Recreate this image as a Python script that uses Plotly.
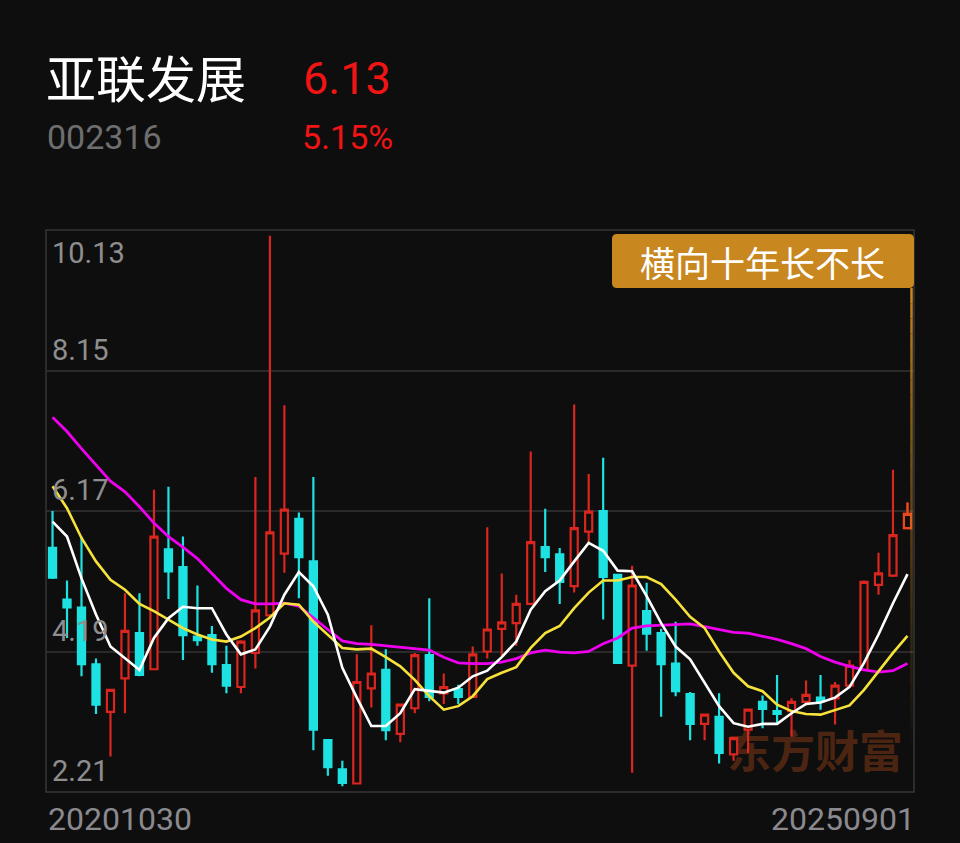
import plotly.graph_objects as go
import pandas as pd

# ---------------- data ----------------
months = pd.period_range("2020-10", "2025-09", freq="M").strftime("%Y-%m").tolist()

opens = [5.65, 4.92, 4.81, 4.01, 3.34, 3.81, 4.45, 3.94, 5.63, 5.38,
         4.40, 4.42, 4.00, 3.69, 4.17, 4.70, 5.57, 6.06, 5.46, 2.94,
         2.53, 2.33, 3.67, 3.93, 3.03, 3.39, 4.14, 3.60, 3.66, 3.55,
         4.19, 4.51, 4.59, 4.86, 5.66, 5.56, 5.11, 5.88, 6.17, 5.27,
         3.99, 4.76, 4.45, 4.02, 3.59, 3.17, 3.27, 2.74, 3.09, 3.48,
         3.35, 3.35, 3.48, 3.54, 3.53, 3.71, 3.93, 5.13, 5.26, 5.93]
highs = [6.17, 5.19, 5.81, 4.09, 3.66, 5.01, 5.01, 6.47, 6.51, 5.81,
         5.12, 4.55, 4.27, 4.35, 6.65, 10.05, 7.66, 6.15, 6.65, 2.95,
         2.65, 4.15, 4.56, 4.22, 3.45, 4.17, 4.94, 3.88, 3.72, 4.26,
         5.94, 5.29, 4.99, 7.01, 6.20, 5.65, 7.67, 6.69, 6.92, 5.28,
         5.40, 5.16, 4.51, 4.61, 3.62, 3.31, 3.60, 2.98, 3.38, 3.57,
         3.86, 3.53, 3.78, 3.86, 3.76, 4.07, 5.19, 5.58, 6.75, 6.29]
lows = [5.21, 4.38, 3.84, 3.31, 2.71, 3.32, 3.84, 3.93, 4.93, 4.07,
        4.27, 3.89, 3.60, 3.60, 3.95, 4.69, 5.30, 4.94, 2.80, 2.44,
        2.29, 2.32, 3.40, 2.94, 2.91, 3.32, 3.49, 3.45, 3.45, 3.54,
        4.09, 4.13, 4.27, 4.85, 5.31, 4.86, 5.02, 5.73, 4.64, 4.02,
        2.48, 4.20, 3.27, 3.56, 2.94, 2.94, 2.61, 2.65, 2.76, 3.11,
        3.17, 2.99, 3.43, 3.37, 3.16, 3.69, 3.92, 4.99, 5.24, 5.92]
closes = [5.23, 4.81, 4.01, 3.44, 3.65, 4.48, 3.86, 5.81, 5.32, 4.42,
          4.35, 4.01, 3.71, 4.33, 4.77, 5.87, 6.19, 5.52, 3.09, 2.56,
          2.34, 3.76, 3.88, 3.08, 3.44, 4.14, 3.55, 3.69, 3.55, 4.15,
          4.50, 4.60, 4.86, 5.73, 5.52, 5.17, 5.93, 6.16, 5.24, 4.03,
          5.12, 4.44, 4.01, 3.63, 3.17, 3.30, 2.76, 2.97, 3.37, 3.38,
          3.31, 3.48, 3.58, 3.49, 3.71, 3.99, 5.17, 5.29, 5.83, 6.13]

ma5 = [6.02, 5.81, 5.22, 4.71, 4.26, 4.10, 3.93, 4.38, 4.66, 4.82,
       4.80, 4.80, 4.43, 4.15, 4.22, 4.54, 4.99, 5.31, 5.11, 4.71,
       3.96, 3.54, 3.14, 3.14, 3.32, 3.66, 3.64, 3.61, 3.68, 3.84,
       3.92, 4.11, 4.33, 4.78, 5.04, 5.19, 5.46, 5.72, 5.61, 5.33,
       5.32, 4.97, 4.59, 4.26, 4.08, 3.75, 3.42, 3.18, 3.13, 3.17,
       3.17, 3.32, 3.45, 3.47, 3.54, 3.69, 4.03, 4.43, 4.87, 5.28]
ma10 = [6.52, 6.21, 5.79, 5.46, 5.20, 5.06, 4.86, 4.76, 4.64, 4.52,
        4.43, 4.36, 4.33, 4.40, 4.52, 4.67, 4.87, 4.85, 4.61, 4.43,
        4.24, 4.22, 4.23, 4.11, 3.98, 3.79, 3.56, 3.37, 3.42, 3.56,
        3.80, 3.89, 3.97, 4.24, 4.45, 4.55, 4.80, 5.02, 5.19, 5.19,
        5.24, 5.24, 5.14, 4.92, 4.68, 4.52, 4.19, 3.89, 3.70, 3.63,
        3.44, 3.35, 3.31, 3.30, 3.36, 3.43, 3.65, 3.91, 4.17, 4.41]
ma20 = [7.49, 7.29, 7.05, 6.82, 6.59, 6.44, 6.23, 6.00, 5.81, 5.66,
        5.50, 5.29, 5.08, 4.92, 4.86, 4.86, 4.87, 4.83, 4.66, 4.50,
        4.34, 4.30, 4.29, 4.27, 4.25, 4.24, 4.21, 4.11, 4.03, 4.02,
        4.02, 4.04, 4.09, 4.17, 4.21, 4.18, 4.17, 4.19, 4.30, 4.38,
        4.52, 4.55, 4.56, 4.58, 4.58, 4.54, 4.50, 4.46, 4.45, 4.41,
        4.36, 4.30, 4.23, 4.12, 4.04, 3.98, 3.93, 3.90, 3.92, 4.02]

y_labels = [10.13, 8.15, 6.17, 4.19, 2.21]
grid_vals = [8.15, 6.17, 4.19]
date_labels = ["20201030", "20250901"]

stock_name = "亚联发展"
stock_code = "002316"
last_price = "6.13"
change_pct = "5.15%"
badge_text = "横向十年长不长"
watermark = "东方财富"

# ---------------- style ----------------
BG = "#0e0e0e"
RED = "#da261e"
CYAN = "#1ee2e2"
LAST = "#e8481c"
ORANGE = "#c8871f"
NUM_FONT = "Roboto"
CJK_FONT = "Noto Sans CJK SC"

W, H = 960, 843
L, R, T, B = 46, 46, 230, 51
PW, PH = W - L - R, H - T - B


def px(xp):
    return (xp - L) / PW


def py(yp):
    return (H - B - yp) / PH


fig = go.Figure()

# watermark on a helper [0,1] subplot, underneath the candles
fig.add_trace(go.Scatter(
    x=[px(815)], y=[py(757)], mode="text", text=[watermark],
    textfont=dict(family=CJK_FONT, size=44, color="#4b2512", weight="bold"),
    xaxis="x", yaxis="y", hoverinfo="skip", showlegend=False))

fig.add_trace(go.Candlestick(
    x=months, open=opens, high=highs, low=lows, close=closes,
    increasing=dict(line=dict(color=RED, width=2.2), fillcolor=BG),
    decreasing=dict(line=dict(color=CYAN, width=2.2), fillcolor=CYAN),
    xaxis="x2", yaxis="y2", showlegend=False, hoverinfo="skip"))

fig.add_trace(go.Candlestick(
    x=months[-1:], open=opens[-1:], high=highs[-1:], low=lows[-1:], close=closes[-1:],
    increasing=dict(line=dict(color=LAST, width=2.2), fillcolor=BG),
    decreasing=dict(line=dict(color=LAST, width=2.2), fillcolor=LAST),
    xaxis="x2", yaxis="y2", showlegend=False, hoverinfo="skip"))

for vals, col, w in [(ma20, "#ee00ee", 2.8), (ma10, "#f6e23a", 2.6), (ma5, "#ffffff", 2.6)]:
    fig.add_trace(go.Scatter(x=months, y=vals, mode="lines",
                             line=dict(color=col, width=w),
                             xaxis="x2", yaxis="y2", showlegend=False, hoverinfo="skip"))

shapes = [
    dict(type="rect", xref="paper", yref="paper", x0=0, x1=1, y0=0, y1=1,
         line=dict(color="#363636", width=1.5), layer="above"),
]

# badge with rounded corners
bx0, bx1, by0, by1 = px(612), px(914), py(288), py(234)
rx, ry = 5 / PW, 5 / PH
path = (f"M {bx0+rx},{by1} L {bx1-rx},{by1} Q {bx1},{by1} {bx1},{by1-ry} "
        f"L {bx1},{by0+ry} Q {bx1},{by0} {bx1-rx},{by0} L {bx0+rx},{by0} "
        f"Q {bx0},{by0} {bx0},{by0+ry} L {bx0},{by1-ry} Q {bx0},{by1} {bx0+rx},{by1} Z")
shapes.append(dict(type="path", xref="paper", yref="paper", path=path,
                   fillcolor=ORANGE, line=dict(width=0), layer="above"))

# fading vertical line under badge
n = 30
top, bot = 288, 745
for i in range(n):
    y0p = top + (bot - top) * i / n
    y1p = top + (bot - top) * (i + 1) / n
    op = max(0.0, 1.0 - (i / n) ** 0.8)
    shapes.append(dict(type="line", xref="paper", yref="paper",
                       x0=px(911.5), x1=px(911.5), y0=py(y0p), y1=py(y1p),
                       line=dict(color=ORANGE, width=2.5), opacity=op, layer="above"))

ann = []
# y labels
for v in y_labels:
    if v == y_labels[0]:
        ann.append(dict(xref="paper", yref="y2", x=0, y=v, xanchor="left", yanchor="top",
                        xshift=4, yshift=-4, text=f"{v:.2f}", showarrow=False,
                        font=dict(family=NUM_FONT, size=29, color="#8e8e8e")))
    else:
        ann.append(dict(xref="paper", yref="y2", x=0, y=v, xanchor="left", yanchor="bottom",
                        xshift=4, yshift=2, text=f"{v:.2f}", showarrow=False,
                        font=dict(family=NUM_FONT, size=29, color="#8e8e8e")))

# date labels
ann.append(dict(xref="paper", yref="paper", x=0, y=py(819), xanchor="left", yanchor="middle",
                text=date_labels[0], showarrow=False,
                font=dict(family=NUM_FONT, size=32, color="#8a8a8e")))
ann.append(dict(xref="paper", yref="paper", x=1, y=py(819), xanchor="right", yanchor="middle",
                xshift=3, text=date_labels[1], showarrow=False,
                font=dict(family=NUM_FONT, size=32, color="#8a8a8e")))

# header
ann.append(dict(xref="paper", yref="paper", x=px(44), y=py(76), xanchor="left", yanchor="middle",
                text=stock_name, showarrow=False,
                font=dict(family=CJK_FONT, size=50, color="#ffffff")))
ann.append(dict(xref="paper", yref="paper", x=px(301), y=py(78), xanchor="left", yanchor="middle",
                text=last_price, showarrow=False,
                font=dict(family=NUM_FONT, size=45, color="#f01414")))
ann.append(dict(xref="paper", yref="paper", x=px(45), y=py(137), xanchor="left", yanchor="middle",
                text=stock_code, showarrow=False,
                font=dict(family=NUM_FONT, size=34, color="#6e6e6e")))
ann.append(dict(xref="paper", yref="paper", x=px(300), y=py(137), xanchor="left", yanchor="middle",
                text=change_pct, showarrow=False,
                font=dict(family=NUM_FONT, size=34, color="#f01414")))

# badge text
ann.append(dict(xref="paper", yref="paper", x=px(762), y=py(261), xanchor="center", yanchor="middle",
                text=badge_text, showarrow=False,
                font=dict(family=CJK_FONT, size=35, color="#ffffff")))

fig.update_layout(
    width=W, height=H,
    margin=dict(l=L, r=R, t=T, b=B, pad=0),
    paper_bgcolor=BG, plot_bgcolor=BG,
    showlegend=False,
    xaxis=dict(range=[0, 1], visible=False, fixedrange=True),
    yaxis=dict(range=[0, 1], visible=False, fixedrange=True),
    xaxis2=dict(overlaying="x", anchor="y2", type="category", range=[-0.45, 59.45],
                showgrid=False, zeroline=False, showticklabels=False, ticks="",
                showline=False, rangeslider=dict(visible=False)),
    yaxis2=dict(overlaying="y", anchor="x2", range=[2.21, 10.13], tickvals=grid_vals,
                showgrid=True, gridcolor="#2a2a2a", gridwidth=2, zeroline=False,
                showticklabels=False, ticks="", showline=False),
    shapes=shapes,
    annotations=ann,
)

fig.write_html(
    "out.html",
    config={"displayModeBar": False, "staticPlot": True},
    post_script="document.body.style.margin='0';document.body.style.background='#0e0e0e';",
)
